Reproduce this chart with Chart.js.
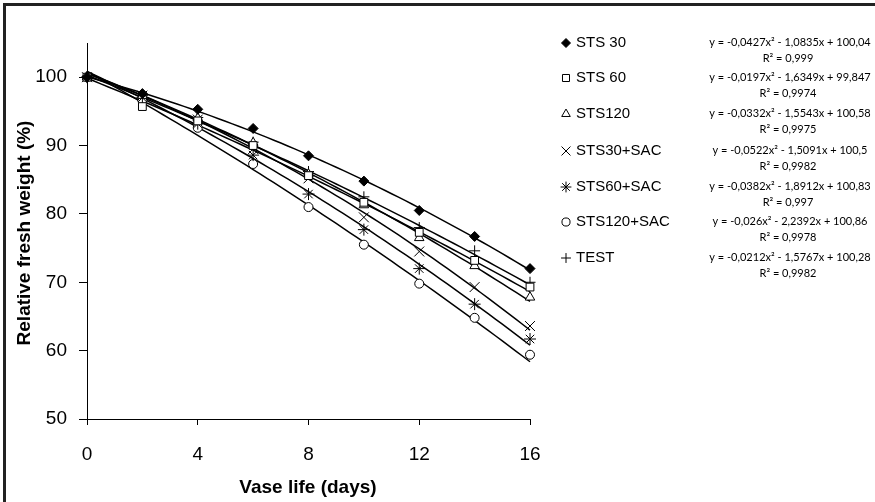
<!DOCTYPE html>
<html>
<head>
<meta charset="utf-8">
<script src="https://cdn.jsdelivr.net/npm/chart.js@4.4.0/dist/chart.umd.min.js"></script>
<style>
    html, body { margin: 0; padding: 0; background: #fff; }
    #wrap { position: relative; width: 875px; height: 502px; overflow: hidden; }
    #frame { position: absolute; left: 3px; top: 3px; width: 900px; height: 520px;
             border-left: 3px solid #222; border-top: 3px solid #222; pointer-events: none; }
    canvas { position: absolute; left: 0; top: 0; }
</style>
</head>
<body>
<div id="wrap">
    <canvas id="weightChart" width="875" height="502"></canvas>
    <div id="frame"></div>
</div>
<script>
// ============ DATA ============
const days = [0, 2, 4, 6, 8, 10, 12, 14, 16];
const seriesNames = ['STS 30', 'STS 60', 'STS120', 'STS30+SAC', 'STS60+SAC', 'STS120+SAC', 'TEST'];

const sts30     = [100, 97.6, 95.3, 92.5, 88.5, 84.8, 80.5, 76.7, 72.0];
const sts60     = [100, 95.7, 93.6, 90.0, 85.6, 81.7, 77.3, 73.2, 69.3];
const sts120    = [100, 97.3, 94.0, 90.4, 85.8, 81.3, 76.5, 72.4, 67.8];
const sts30sac  = [100, 97.3, 93.8, 89.5, 85.2, 79.5, 74.5, 69.3, 63.6];
const sts60sac  = [100, 97.0, 93.2, 88.6, 82.9, 77.7, 72.0, 66.8, 61.7];
const sts120sac = [100, 96.6, 92.6, 87.3, 81.0, 75.5, 69.8, 64.8, 59.4];
const test      = [100, 97.3, 94.1, 90.5, 86.2, 82.5, 78.0, 74.6, 70.0];
const allSeries = [sts30, sts60, sts120, sts30sac, sts60sac, sts120sac, test];

// polynomial trendline coefficients as printed on the chart (y = a*x^2 + b*x + c)
const fitA = [-0.0427, -0.0197, -0.0332, -0.0522, -0.0382, -0.026, -0.0212];
const fitB = [-1.0835, -1.6349, -1.5543, -1.5091, -1.8912, -2.2392, -1.5767];
const fitC = [100.04, 99.847, 100.58, 100.5, 100.83, 100.86, 100.28];

const fitLabels = [
    'y = -0,0427x² - 1,0835x + 100,04',
    'y = -0,0197x² - 1,6349x + 99,847',
    'y = -0,0332x² - 1,5543x + 100,58',
    'y = -0,0522x² - 1,5091x + 100,5',
    'y = -0,0382x² - 1,8912x + 100,83',
    'y = -0,026x² - 2,2392x + 100,86',
    'y = -0,0212x² - 1,5767x + 100,28'
];
const r2Labels = ['R² = 0,999', 'R² = 0,9974', 'R² = 0,9975', 'R² = 0,9982', 'R² = 0,997', 'R² = 0,9978', 'R² = 0,9982'];

const xTicks = [0, 4, 8, 12, 16];
const yTicks = [50, 60, 70, 80, 90, 100];

// ============ MARKER STYLES ============
const markerStyle  = ['rectRot', 'rect', 'triangle', 'crossRot', 'star', 'circle', 'cross'];
const markerFill   = ['#000', '#fff', '#fff', '#000', '#000', '#fff', '#000'];
const markerRadius = [5, 5.5, 5.5, 7, 6, 4.5, 5.5];

const legendY = [43, 78, 114, 151, 187, 222, 258];

// ============ BUILD DATASETS ============
const datasets = [];

allSeries.forEach((values, i) => {
    datasets.push({
        label: seriesNames[i],
        data: days.map((d, k) => ({ x: d, y: values[k] })),
        showLine: false,
        pointStyle: markerStyle[i],
        pointRadius: markerRadius[i],
        pointBackgroundColor: markerFill[i],
        pointBorderColor: '#000',
        pointBorderWidth: 1,
        clip: false
    });
});

allSeries.forEach((values, i) => {
    const pts = [];
    for (let k = 0; k <= 64; k++) {
        const x = k * 0.25;
        pts.push({ x: x, y: fitA[i] * x * x + fitB[i] * x + fitC[i] });
    }
    datasets.push({
        label: seriesNames[i] + ' fit',
        data: pts,
        showLine: true,
        borderColor: '#000',
        borderWidth: 1.5,
        pointRadius: 0,
        tension: 0,
        clip: false
    });
});

// ============ LEGEND + TITLES PLUGIN ============
const extrasPlugin = {
    id: 'extras',
    afterDraw(chart) {
        const ctx = chart.ctx;
        ctx.save();
        ctx.fillStyle = '#000';

        // axis titles
        ctx.font = 'bold 19px "Liberation Sans", Arial, sans-serif';
        ctx.textAlign = 'center';
        ctx.textBaseline = 'middle';
        ctx.fillText('Vase life (days)', 308, 488);
        ctx.save();
        ctx.translate(25, 233);
        ctx.rotate(-Math.PI / 2);
        ctx.fillText('Relative fresh weight (%)', 0, 0);
        ctx.restore();

        // legend
        seriesNames.forEach((name, i) => {
            const y = legendY[i];
            ctx.fillStyle = markerFill[i];
            ctx.strokeStyle = '#000';
            ctx.lineWidth = 1;
            Chart.helpers.drawPoint(ctx, {
                pointStyle: markerStyle[i],
                radius: markerRadius[i] * 0.9,
                rotation: 0,
                borderWidth: 1
            }, 566, y);

            ctx.fillStyle = '#000';
            ctx.font = '15px "Liberation Sans", Arial, sans-serif';
            ctx.textAlign = 'left';
            ctx.textBaseline = 'middle';
            ctx.fillText(name, 576, y);

            ctx.font = '11px Lato, "Open Sans", sans-serif';
            ctx.textAlign = 'center';
            ctx.fillText(fitLabels[i], 790, y - 1);
            ctx.fillText(r2Labels[i], 788, y + 15);
        });
        ctx.restore();
    }
};

// ============ CHART ============
const tickFont = { family: '"Liberation Sans", Arial, sans-serif', size: 19 };

new Chart(document.getElementById('weightChart').getContext('2d'), {
    type: 'scatter',
    data: { datasets: datasets },
    options: {
        responsive: false,
        animation: false,
        devicePixelRatio: 1,
        layout: { padding: { left: 0, top: 43, right: 345, bottom: 0 } },
        plugins: {
            legend: { display: false },
            tooltip: { enabled: false }
        },
        scales: {
            x: {
                type: 'linear',
                min: 0,
                max: 16,
                afterBuildTicks: (scale) => { scale.ticks = xTicks.map(v => ({ value: v })); },
                afterFit: (scale) => { scale.height = 83; },
                ticks: { font: tickFont, color: '#000', padding: 18, maxRotation: 0 },
                border: { display: true, color: '#000', width: 1 },
                grid: { display: true, drawOnChartArea: false, drawTicks: true, tickLength: 6, color: '#000' }
            },
            y: {
                type: 'linear',
                min: 50,
                max: 105,
                afterBuildTicks: (scale) => { scale.ticks = yTicks.map(v => ({ value: v })); },
                afterFit: (scale) => { scale.width = 87; },
                ticks: { font: tickFont, color: '#000', padding: 12 },
                border: { display: true, color: '#000', width: 1 },
                grid: { display: true, drawOnChartArea: false, drawTicks: true, tickLength: 8, color: '#000' }
            }
        }
    },
    plugins: [extrasPlugin]
});
</script>
</body>
</html>
